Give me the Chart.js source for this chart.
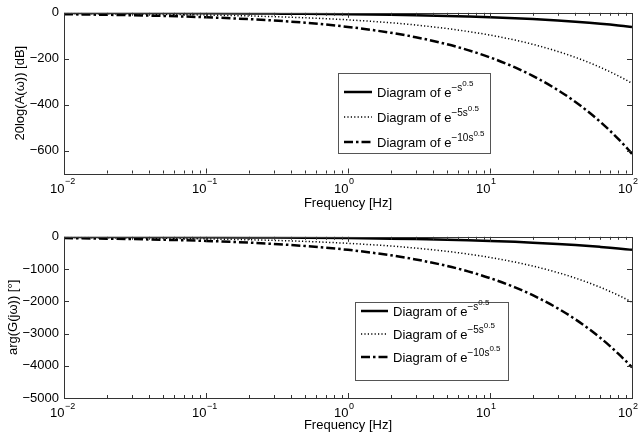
<!DOCTYPE html>
<html><head><meta charset="utf-8">
<script src="https://cdn.jsdelivr.net/npm/chart.js@4.4.1/dist/chart.umd.min.js"></script>
<style>
html,body{margin:0;padding:0;background:#fff;}
#wrap{position:relative;width:640px;height:437px;}
.box{position:absolute;left:0;width:640px;}
</style></head><body>
<div id="wrap">
<div class="box" style="top:0;height:218px"><canvas id="c1"></canvas></div>
<div class="box" style="top:224px;height:213px"><canvas id="c2"></canvas></div>
</div>
<script>
// ---- data ----
const freqHz = [0.01,0.02,0.03,0.05,0.1,0.2,0.3,0.5,1,2,3,5,7,10,15,20,30,40,50,60,70,80,90,100];
const magA1  = [-0.6,-0.9,-1.1,-1.4,-1.9,-2.7,-3.4,-4.3,-6.1,-8.7,-10.6,-13.7,-16.3,-19.4,-23.8,-27.5,-33.6,-38.8,-43.4,-47.6,-51.4,-54.9,-58.3,-61.4];
const magA5  = [-3.1,-4.3,-5.3,-6.9,-9.7,-13.7,-16.8,-21.7,-30.7,-43.4,-53.2,-68.7,-81.3,-97.1,-118.9,-137.3,-168.2,-194.2,-217.1,-237.9,-256.9,-274.7,-291.3,-307.1];
const magA10 = [-6.1,-8.7,-10.6,-13.7,-19.4,-27.5,-33.6,-43.4,-61.4,-86.9,-106.4,-137.3,-162.5,-194.2,-237.9,-274.7,-336.4,-388.5,-434.3,-475.7,-513.9,-549.3,-582.7,-614.2];
const phA1   = [-4,-6,-7,-9,-13,-18,-22,-29,-41,-57,-70,-91,-107,-128,-157,-181,-222,-256,-286,-314,-339,-362,-384,-405];
const phA5   = [-20,-29,-35,-45,-64,-91,-111,-143,-203,-286,-351,-453,-536,-641,-785,-906,-1110,-1281,-1432,-1569,-1695,-1812,-1922,-2026];
const phA10  = [-41,-57,-70,-91,-128,-181,-222,-286,-405,-573,-702,-906,-1072,-1281,-1569,-1812,-2219,-2562,-2865,-3138,-3390,-3624,-3843,-4051];
const xTickValues = [0.01,0.1,1,10,100];
const xTickBase = ['10','10','10','10','10'];
const xTickExp  = ['\u22122','\u22121','0','1','2'];
const magTicks = [-600,-400,-200,0];
const phTicks  = [-5000,-4000,-3000,-2000,-1000,0];
const seriesNames = [['\u2212s','0.5'],['\u22125s','0.5'],['\u221210s','0.5']];

const FONT = 'Liberation Sans, Arial, Helvetica, sans-serif';
const styles = [
  {borderWidth:2.5, borderDash:[]},
  {borderWidth:1.5, borderDash:[1.2,2.2]},
  {borderWidth:2.5, borderDash:[9,3,2.5,3]}
];
function mk(arr, i){
  return {data: freqHz.map((f,k)=>({x:f,y:arr[k]})), borderColor:'#000', backgroundColor:'#000',
    borderWidth:styles[i].borderWidth, borderDash:styles[i].borderDash, pointRadius:0,
    cubicInterpolationMode:'monotone', fill:false};
}

const framePlugin = {
  id:'frame',
  afterDraw(chart){
    const ctx = chart.ctx, a = chart.chartArea, xs = chart.scales.x, ys = chart.scales.y;
    ctx.save();
    ctx.strokeStyle = '#333'; ctx.lineWidth = 1;
    ctx.strokeRect(Math.round(a.left)+0.5, Math.round(a.top)+0.5, Math.round(a.right-a.left), Math.round(a.bottom-a.top));
    ctx.beginPath();
    for (let d=-2; d<2; d++){
      for (let m=1; m<10; m++){
        const v = m*Math.pow(10,d);
        const px = Math.round(xs.getPixelForValue(v))+0.5;
        const len = m===1 ? 5 : 3;
        if (m===1 && d===-2) continue;
        ctx.moveTo(px, a.bottom); ctx.lineTo(px, a.bottom-len);
        ctx.moveTo(px, a.top); ctx.lineTo(px, a.top+len);
      }
    }
    for (const t of ys.ticks){
      const py = Math.round(ys.getPixelForValue(t.value))+0.5;
      ctx.moveTo(a.left, py); ctx.lineTo(a.left+5, py);
      ctx.moveTo(a.right, py); ctx.lineTo(a.right-5, py);
    }
    ctx.stroke();
    // x tick labels with superscript exponents, placed by the x scale
    ctx.fillStyle = '#000'; ctx.textBaseline = 'alphabetic'; ctx.textAlign = 'left';
    xTickValues.forEach((v, i) => {
      const px = xs.getPixelForValue(v);
      ctx.font = '13px ' + FONT;
      const wb = ctx.measureText(xTickBase[i]).width;
      const x0 = px - wb + 0.5;
      ctx.fillText(xTickBase[i], x0, a.bottom + 19);
      ctx.font = '9px ' + FONT;
      ctx.fillText(xTickExp[i], x0 + wb + 0.5, a.bottom + 10.5);
    });
    ctx.restore();
  }
};

const legendPlugin = {
  id:'boxlegend',
  afterDraw(chart, args, opts){
    const ctx = chart.ctx;
    const {x, y, w, h, rows, lineX0, lineX1, textX} = opts;
    ctx.save();
    ctx.fillStyle = '#fff'; ctx.fillRect(x, y, w, h);
    ctx.strokeStyle = '#555'; ctx.lineWidth = 1;
    ctx.strokeRect(x+0.5, y+0.5, w, h);
    rows.forEach((ry, i) => {
      ctx.beginPath();
      ctx.strokeStyle = '#000';
      ctx.lineWidth = styles[i].borderWidth;
      ctx.setLineDash(styles[i].borderDash);
      ctx.moveTo(lineX0, ry); ctx.lineTo(lineX1, ry); ctx.stroke();
      ctx.setLineDash([]);
      ctx.fillStyle = '#000';
      ctx.textBaseline = 'alphabetic'; ctx.textAlign = 'left';
      ctx.font = '13px ' + FONT;
      const base = 'Diagram of e';
      ctx.fillText(base, textX, ry+5);
      let cx = textX + ctx.measureText(base).width;
      ctx.font = '10px ' + FONT;
      ctx.fillText(seriesNames[i][0], cx, ry-1);
      cx += ctx.measureText(seriesNames[i][0]).width;
      ctx.font = '8px ' + FONT;
      ctx.fillText(seriesNames[i][1], cx, ry-6);
    });
    ctx.restore();
  }
};

function makeChart(id, datasets, yMin, yTicks, yTitle, canvasH, plotTop, plotBottom, titlePad, xTitlePad, legendOpts){
  return new Chart(document.getElementById(id), {
    type:'line',
    data:{datasets},
    plugins:[framePlugin, legendPlugin],
    options:{
      responsive:true, maintainAspectRatio:false, animation:false,
      layout:{padding:{left:0, right:8, top:plotTop, bottom:0}},
      plugins:{legend:{display:false}, tooltip:{enabled:false}, boxlegend:legendOpts},
      scales:{
        x:{type:'logarithmic', min:0.01, max:100,
          afterBuildTicks(s){ s.ticks = xTickValues.map(v=>({value:v})); },
          afterFit(s){ s.height = canvasH - plotBottom; },
          grid:{display:false, drawTicks:false}, border:{display:false},
          ticks:{display:false},
          title:{display:true, text:'Frequency [Hz]', color:'#000', font:{family:FONT, size:13}, padding:{top:0,bottom:xTitlePad}}
        },
        y:{type:'linear', min:yMin, max:0,
          afterBuildTicks(s){ s.ticks = yTicks.map(v=>({value:v})); },
          afterFit(s){ s.width = 64; },
          grid:{display:false, drawTicks:false}, border:{display:false},
          ticks:{color:'#000', font:{family:FONT, size:13}, padding:5,
            callback(v){ return String(v).replace('-', '\u2212'); }},
          title:{display:true, text:yTitle, color:'#000', font:{family:FONT, size:13}, padding:{top:titlePad, bottom:0}}
        }
      }
    }
  });
}

makeChart('c1', [mk(magA1,0), mk(magA5,1), mk(magA10,2)], -700, magTicks, '20log(A(\u03C9)) [dB]',
  218, 12, 173.5, 13, 7,
  {x:338, y:73, w:152, h:80, rows:[92,117,142], lineX0:344, lineX1:372, textX:377});
makeChart('c2', [mk(phA1,0), mk(phA5,1), mk(phA10,2)], -5000, phTicks, 'arg(G(j\u03C9)) [\u00B0]',
  213, 12.5, 174, 6, 4,
  {x:355, y:78, w:153, h:78, rows:[87,110,133], lineX0:361, lineX1:388, textX:393});
</script>
</body></html>
